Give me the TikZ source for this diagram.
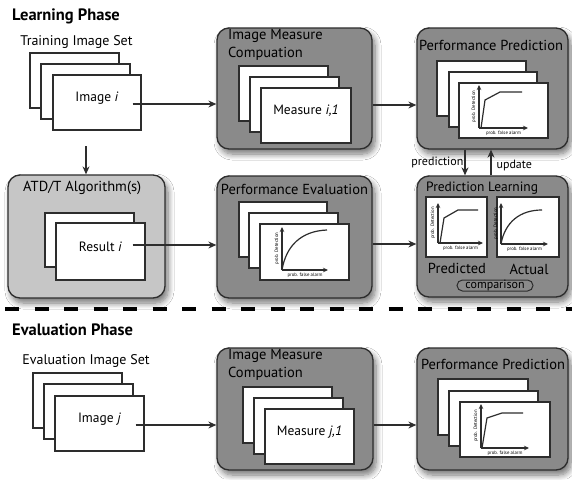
\documentclass[tikz,border=0pt]{standalone}
\usepackage{fontspec}
\setmainfont{PT Sans}
\usetikzlibrary{arrows.meta,shadows,shadows.blur,fit,calc}
\definecolor{boxgray}{RGB}{138,138,138}
\definecolor{lightbox}{RGB}{198,198,198}
\definecolor{edgec}{RGB}{45,45,45}
\newcommand\rocax[4]{%
\begin{scope}[shift={(#1,#2)}]
\draw[axis] (0,0) -- (0,-#3);
\draw[axis] (0,0) -- (#4,0);
\node[axlab,rotate=90] at (-5,-#3/2) {prob. Detection};
\node[axlab] at (#4/2,5) {prob. false alarm};
\end{scope}}
\begin{document}
\begin{tikzpicture}[x=1pt,y=-1pt,
  procbox/.style={draw=edgec,line width=1.3pt,rounded corners=12pt,fill=boxgray,inner sep=0pt,
     blur shadow={shadow xshift=3pt,shadow yshift=-5pt,shadow blur radius=6pt,shadow blur steps=8,shadow opacity=55}},
  algbox/.style={procbox,fill=lightbox},
  page/.style={draw=edgec,line width=1.3pt,fill=white,inner sep=0pt},
  plotbox/.style={draw=edgec,line width=1.6pt,fill=white,inner sep=0pt},
  arr/.style={draw=edgec,line width=1.1pt,-{Stealth[length=8pt,width=7pt]}},
  axis/.style={draw=edgec,line width=1.1pt,-{Stealth[length=5pt,width=4.5pt]}},
  curve/.style={draw=edgec,line width=1.2pt},
  axlab/.style={font=\fontsize{4.8}{5}\selectfont,inner sep=0pt},
  phase/.style={font=\fontsize{16.5}{18}\selectfont\bfseries,inner sep=0pt},
  settitle/.style={font=\fontsize{14}{16}\selectfont,inner sep=0pt},
  boxtitle/.style={font=\fontsize{14.5}{18}\selectfont,inner sep=0pt},
  pagetext/.style={font=\fontsize{13.5}{16}\selectfont},
  small/.style={font=\fontsize{12}{13}\selectfont,inner sep=0pt}]
\useasboundingbox (0,0) rectangle (572,479);
\fill[white] (0,0) rectangle (572,479);

% ---------- Learning phase ----------
\node[phase,anchor=west] (lp) at (12,16) {Learning Phase};
\node[settitle] (tis) at (76.5,42) {Training Image Set};
\node[page,fit={(30,53) (119,108)}] (img1c) {};
\node[page,fit={(41,64) (130,119)}] (img1b) {};
\node[page,fit={(53,75) (141,130)},pagetext] (img1) {Image \textit{i}};

% image measure computation
\node[procbox,fit={(217,28) (372,149)}] (imc1) {};
\node[boxtitle,anchor=north west,align=left] (imc1t) at (228,29) {Image Measure\\Compuation};
\node[page,fit={(239,66) (328,121)}] (m1c) {};
\node[page,fit={(250,77) (339,132)}] (m1b) {};
\node[page,fit={(261,88) (351,143)},pagetext] (m1) {Measure \textit{i,1}};

% performance prediction
\node[procbox,fit={(417,28) (568,149)}] (pp1) {};
\node[boxtitle] (pp1t) at (491,45) {Performance Prediction};
\node[page,fit={(437,61) (526,116)}] (p1c) {};
\node[page,fit={(449,72) (537,127)}] (p1b) {};
\node[page,fit={(459,83) (548,138)}] (p1) {};
\rocax{479}{128}{43}{49}
\draw[curve] (481,128) -- (485,100) -- (500,92) -- (522,92);

% ATD/T
\node[algbox,fit={(8,175) (165,298)}] (atd) {};
\node[boxtitle,anchor=west] (atdt) at (23,188) {ATD/T Algorithm(s)};
\node[page,fit={(45,213) (134,267)}] (r1b) {};
\node[page,fit={(56,223) (145,280)},pagetext] (r1) {Result \textit{i}};

% performance evaluation
\node[procbox,fit={(217,176) (372,298)}] (pe) {};
\node[boxtitle] (pet) at (294.5,189) {Performance Evaluation};
\node[page,fit={(239,202) (327,257)}] (e1c) {};
\node[page,fit={(249,213) (338,268)}] (e1b) {};
\node[page,fit={(260,224) (349,280)}] (e1) {};
\rocax{282}{270}{43}{46}
\draw[curve] (282,270) .. controls (286,246) and (301,231) .. (327,230);

% prediction learning
\node[procbox,fit={(417,176) (568,297)}] (pl) {};
\node[boxtitle,anchor=west,font=\fontsize{13.5}{16}\selectfont] (plt) at (426,188) {Prediction Learning};
\node[plotbox,fit={(426,197) (487,257)}] (pla) {};
\node[plotbox,fit={(497,197) (559,257)}] (plb) {};
\rocax{438}{243}{40}{45}
\draw[curve] (440,243) -- (444,218) -- (458,210) -- (478,210);
\rocax{501}{244}{41}{47}
\draw[curve] (501,244) .. controls (505,222) and (520,210) .. (542,210);
\node[boxtitle] (predl) at (457,268) {Predicted};
\node[boxtitle] (actl) at (529,269) {Actual};
\node[small,draw=edgec,line width=1pt,rounded corners=5.5pt,minimum width=76pt,minimum height=11pt] (cmp) at (495,285.5) {comparison};

% connectors (learning)
\draw[arr] ($(img1.east)+(-9,1.5)$) coordinate (s1) -- (s1 -| imc1.west);
\draw[arr] ($(imc1.east)+(0,16.5)$) coordinate (s2) -- (s2 -| pp1.west);
\coordinate (s3) at (86,146);
\draw[arr] (s3) -- (s3 |- atd.north);
\draw[arr] ($(r1.east)+(-13,-6.5)$) coordinate (s4) -- (s4 -| pe.west);
\draw[arr] ($(pe.east)+(0,7)$) coordinate (s5) -- (s5 -| pl.west);
\draw[arr] ($(pp1.south)+(-27.5,0)$) coordinate (s6) -- (s6 |- pl.north)
   node[midway,left=1pt,small] (predlab) {prediction};
\draw[arr] ($(pl.north)+(-1.5,0)$) coordinate (s7) -- (s7 |- pp1.south)
   node[pos=0.4,right=5pt,small] (updlab) {update};

% dashed separator
\draw[line width=3.5pt,dash pattern=on 14pt off 15.5pt,dash phase=24.5pt] (0,309) -- (572,309);

% ---------- Evaluation phase ----------
\node[phase,anchor=west] (ep) at (12,330) {Evaluation Phase};
\node[settitle] (eis) at (86,361) {Evaluation Image Set};
\node[page,fit={(33,373) (122,428)}] (img2c) {};
\node[page,fit={(44,384) (133,439)}] (img2b) {};
\node[page,fit={(55,396) (144,451)},pagetext] (img2) {Image \textit{j}};

\node[procbox,fit={(217,348) (373,470)}] (imc2) {};
\node[boxtitle,anchor=north west,align=left] (imc2t) at (228,349) {Image Measure\\Compuation};
\node[page,fit={(243,387) (332,443)}] (m2c) {};
\node[page,fit={(254,398) (343,454)}] (m2b) {};
\node[page,fit={(265,409) (354,464)},pagetext] (m2) {Measure \textit{j,1}};

\node[procbox,fit={(417,348) (568,470)}] (pp2) {};
\node[boxtitle] (pp2t) at (493,364) {Performance Prediction};
\node[page,fit={(438,379) (528,435)}] (p2c) {};
\node[page,fit={(449,391) (538,446)}] (p2b) {};
\node[page,fit={(460,402) (550,457)}] (p2) {};
\rocax{481}{448}{44}{48}
\draw[curve] (482,448) -- (487,418) -- (502,413) -- (523,413);

\draw[arr] ($(img2.east)+(-9,1.5)$) coordinate (s8) -- (s8 -| imc2.west);
\draw[arr] ($(imc2.east)+(0,16)$) coordinate (s9) -- (s9 -| pp2.west);
\end{tikzpicture}
\end{document}
